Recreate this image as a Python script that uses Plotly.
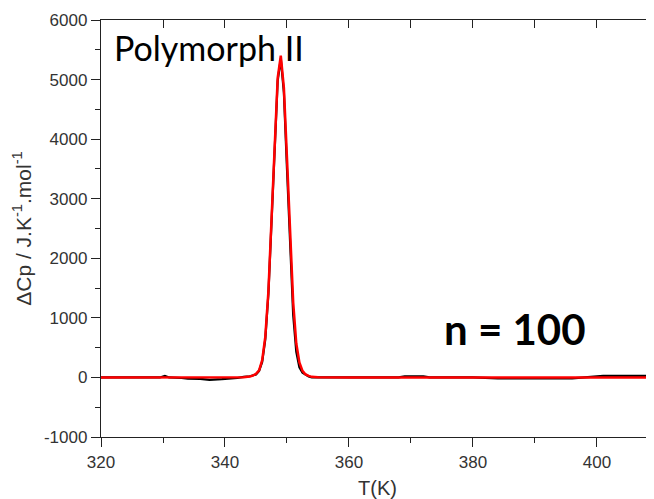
import plotly.graph_objects as go

# Experimental curve (black)
black_T = [320, 325, 329.5, 330.3, 331, 333, 334, 336, 337.5, 339.5, 340.5, 342, 343, 344, 345,
           345.5, 346, 346.5, 347, 347.5, 348, 348.5, 349, 349.5, 350, 350.5, 351, 351.5, 352,
           352.5, 353, 353.5, 354, 356, 360, 368, 369, 370.5, 372, 373, 380, 384, 386, 390, 396,
           398, 401, 404, 410]
black_Cp = [0, 0, 0, 25, 0, -10, -20, -25, -40, -30, -25, -10, 10, 20, 50,
            110, 260, 640, 1400, 2550, 3900, 4980, 5350, 4780, 3500, 2150, 1050, 430, 170,
            80, 40, 15, 0, 0, 0, 0, 20, 15, 20, 0, 0, -15, -15, -20, -15,
            0, 25, 25, 25]

# Fitted curve (red)
red_T = [320, 340, 343, 344, 344.5, 345, 345.5, 346, 346.5, 347, 347.5, 348, 348.5, 349,
         349.5, 350, 350.5, 351, 351.5, 352, 352.5, 353, 353.5, 354, 355, 360, 410]
red_Cp = [0, 0, 5, 15, 30, 60, 120, 290, 680, 1440, 2600, 3950, 5030, 5400,
          4860, 3680, 2350, 1260, 570, 250, 110, 50, 25, 10, 3, 0, 0]

y_tickvals = [-1000, 0, 1000, 2000, 3000, 4000, 5000, 6000]
y_ticktext = ["-1000", "0", "1000", "2000", "3000", "4000", "5000", "6000"]

x_range = [320, 409.2]
y_range = [-1000, 6000]

fig = go.Figure()
fig.add_trace(go.Scatter(x=black_T, y=black_Cp, mode="lines",
                         line=dict(color="black", width=2.2), showlegend=False))
fig.add_trace(go.Scatter(x=red_T, y=red_Cp, mode="lines",
                         line=dict(color="#ff0000", width=2.5), showlegend=False))

axis_font = dict(family="Liberation Sans, Arial, sans-serif", size=17, color="#333333")
title_font = dict(family="Liberation Sans, Arial, sans-serif", size=20, color="#333333")
ytitle_font = dict(family="Liberation Sans, Arial, sans-serif", size=21, color="#333333")

# page body has an 8px default margin; figure sized to fill the rest of the window
fig.update_layout(
    width=646, height=491,
    margin=dict(l=93, r=0, t=12, b=62),
    plot_bgcolor="white", paper_bgcolor="white",
    xaxis=dict(range=x_range, dtick=20, tick0=320, showgrid=False, zeroline=False, automargin=False,
               showline=True, linecolor="#222222", linewidth=1.3,
               ticks="outside", ticklen=9, tickwidth=1.3, tickcolor="#222222",
               minor=dict(dtick=10, tick0=320, ticks="outside", ticklen=5, tickcolor="#222222", tickwidth=1.3),
               tickfont=axis_font,
               title=dict(text="T(K)", font=title_font, standoff=11)),
    xaxis2=dict(range=x_range, overlaying="x", side="top", dtick=10, tick0=320, automargin=False,
                showgrid=False, zeroline=False, showline=True, linecolor="#222222", linewidth=1.3,
                ticks="inside", ticklen=8, tickwidth=1.3, tickcolor="#222222", showticklabels=False),
    yaxis=dict(range=y_range, tickvals=y_tickvals, ticktext=y_ticktext, showgrid=False, zeroline=False,
               automargin=False,
               showline=True, linecolor="#222222", linewidth=1.3,
               ticks="outside", ticklen=9, tickwidth=1.3, tickcolor="#222222",
               minor=dict(dtick=500, tick0=0, ticks="outside", ticklen=5, tickcolor="#222222", tickwidth=1.3),
               tickfont=axis_font,
               title=dict(text="ΔCp / J.K<sup>-1</sup>.mol<sup>-1</sup>", font=ytitle_font, standoff=6)),
    annotations=[
        dict(x=321.7, y=5545, xref="x", yref="y", text="Polymorph II", showarrow=False,
             xanchor="left", yanchor="middle",
             font=dict(family="Lato, sans-serif", size=34, color="black")),
        dict(x=386.8, y=814, xref="x", yref="y", text="<b>n = 100</b>", showarrow=False,
             xanchor="center", yanchor="middle",
             font=dict(family="Lato, sans-serif", size=42, color="black")),
    ],
)
# dummy trace to activate top axis
fig.add_trace(go.Scatter(x=[None], y=[None], xaxis="x2", showlegend=False))

fig.write_html("out.html")
